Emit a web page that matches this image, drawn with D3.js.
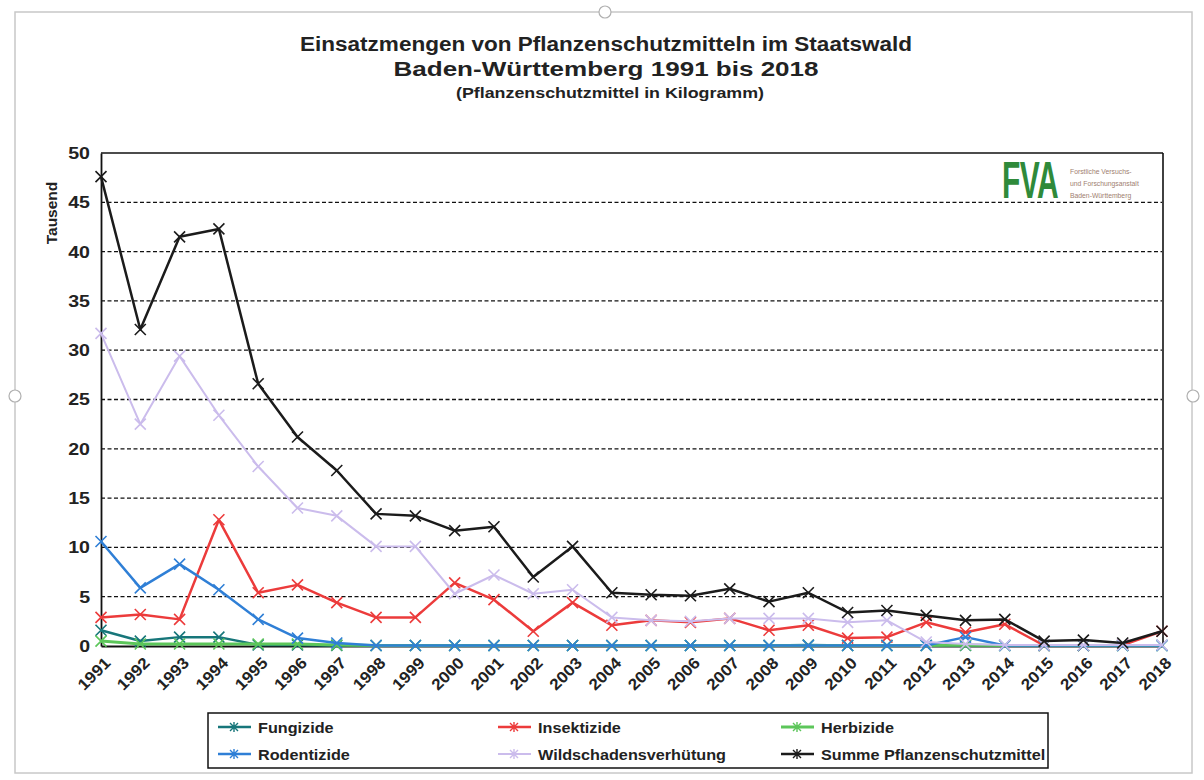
<!DOCTYPE html>
<html><head><meta charset="utf-8">
<script src="https://cdn.jsdelivr.net/npm/d3@7"></script>
<style>body{margin:0;background:#fff;} svg{display:block;font-family:"Liberation Sans",Arial,sans-serif;}</style>
</head><body><svg id="c" width="1204" height="780"></svg>
<script>
const years = [1991,1992,1993,1994,1995,1996,1997,1998,1999,2000,2001,2002,2003,2004,2005,2006,2007,2008,2009,2010,2011,2012,2013,2014,2015,2016,2017,2018];
const fungizide   = [1.6,0.5,0.9,0.9,0.1,0.1,0.05,0.05,0.05,0.05,0.05,0.05,0.05,0.05,0.05,0.05,0.05,0.05,0.1,0.05,0.05,0.05,0.05,0.05,0.05,0.05,0.05,0.05];
const insektizide = [2.9,3.2,2.7,12.8,5.4,6.2,4.4,2.9,2.9,6.4,4.7,1.5,4.4,2.1,2.6,2.4,2.8,1.6,2.1,0.8,0.9,2.4,1.4,2.2,0.05,0.05,0.1,1.5];
const herbizide   = [0.5,0.2,0.2,0.2,0.2,0.2,0.1,0.05,0.05,0.05,0.05,0.05,0.05,0.05,0.05,0.05,0.05,0.05,0.05,0.05,0.05,0.05,0.1,0.05,0.05,0.05,0.05,0.05];
const rodentizide = [10.6,5.9,8.3,5.7,2.7,0.8,0.3,0.05,0.05,0.05,0.05,0.05,0.05,0.05,0.05,0.05,0.05,0.05,0.05,0.05,0.05,0.05,0.9,0.05,0.05,0.05,0.05,0.05];
const wildschaden = [31.7,22.5,29.4,23.4,18.2,14.0,13.2,10.1,10.1,5.3,7.2,5.3,5.7,2.9,2.6,2.5,2.8,2.8,2.8,2.4,2.6,0.4,0.2,0.1,0.1,0.1,0.1,0.1];
const summe       = [47.6,32.1,41.5,42.3,26.6,21.2,17.8,13.4,13.2,11.7,12.1,7.0,10.1,5.4,5.2,5.1,5.8,4.5,5.4,3.4,3.6,3.1,2.6,2.7,0.5,0.6,0.3,1.5];
const seriesNames = ["Fungizide","Insektizide","Herbizide","Rodentizide","Wildschadensverhütung","Summe Pflanzenschutzmittel"];
const yTicks = [0,5,10,15,20,25,30,35,40,45,50];
const titleLines = ["Einsatzmengen von Pflanzenschutzmitteln im Staatswald","Baden-Württemberg 1991 bis 2018"];
const subtitle = "(Pflanzenschutzmittel in Kilogramm)";
const yLabel = "Tausend";
const logoLines = ["Forstliche Versuchs-","und Forschungsanstalt","Baden-Württemberg"];

const seriesData = [fungizide, insektizide, herbizide, rodentizide, wildschaden, summe];
const colors = ["#17767a","#ec3b3b","#5cc65a","#2f7fd6","#cbbcec","#1b1b1b"];
const widths = [2.5,2.5,3,2.5,2,2.5];

const svg = d3.select("#c");
function stretch(sel, f){
  sel.each(function(){
    const w = this.getComputedTextLength();
    d3.select(this).attr("textLength", w*f).attr("lengthAdjust","spacingAndGlyphs");
  });
  return sel;
}
// outer frame
svg.append("rect").attr("x",15).attr("y",12).attr("width",1177).attr("height",761)
  .attr("fill","#fff").attr("stroke","#c8c8c8").attr("stroke-width",1.5);
[[15,396],[605,12],[1193,396]].forEach(p=>{
  svg.append("circle").attr("cx",p[0]).attr("cy",p[1]).attr("r",6).attr("fill","#fff").attr("stroke","#b0b0b0").attr("stroke-width",1.2);
});

const L=101,R=1162,T=153,B=646;
const x = d3.scalePoint().domain(years).range([L,R]).padding(0);
const y = d3.scaleLinear().domain([0,50]).range([B,T]);

// titles
svg.append("text").attr("x",606).attr("y",51).attr("text-anchor","middle").attr("font-weight","bold").attr("font-size",20).attr("fill","#222").text(titleLines[0]).attr("textLength",612).attr("lengthAdjust","spacingAndGlyphs");
svg.append("text").attr("x",606).attr("y",76).attr("text-anchor","middle").attr("font-weight","bold").attr("font-size",20).attr("fill","#222").text(titleLines[1]).attr("textLength",425).attr("lengthAdjust","spacingAndGlyphs");
svg.append("text").attr("x",610).attr("y",98).attr("text-anchor","middle").attr("font-weight","bold").attr("font-size",14).attr("fill","#222").text(subtitle).attr("textLength",308).attr("lengthAdjust","spacingAndGlyphs");

// gridlines
const g = svg.append("g");
g.selectAll("line.grid").data(yTicks.filter(t=>t>0 && t<50)).join("line")
  .attr("x1",L).attr("x2",R).attr("y1",d=>y(d)).attr("y2",d=>y(d))
  .attr("stroke","#111").attr("stroke-width",1.3).attr("stroke-dasharray","4,2.5");
g.append("line").attr("x1",L).attr("x2",R+1).attr("y1",T).attr("y2",T).attr("stroke","#111").attr("stroke-width",1.6);
g.append("line").attr("x1",R+1).attr("x2",R+1).attr("y1",T).attr("y2",B).attr("stroke","#111").attr("stroke-width",1.6);

// y axis
const yAxis = g.append("g").attr("transform",`translate(${L},0)`).call(d3.axisLeft(y).tickValues(yTicks).tickSize(0).tickPadding(11));
yAxis.select(".domain").attr("stroke","#111").attr("stroke-width",1.8);
yAxis.selectAll("text").attr("font-size",17).attr("font-weight","bold").attr("fill","#222").attr("font-family","Liberation Sans, Arial, sans-serif");
stretch(yAxis.selectAll("text"),1.15);
svg.append("text").attr("transform","translate(57,213) rotate(-90)").attr("text-anchor","middle").attr("font-weight","bold").attr("font-size",15.5).attr("fill","#222").text(yLabel);

// x axis
const xAxis = g.append("g").attr("transform",`translate(0,${B})`).call(d3.axisBottom(x).tickSize(0).tickPadding(0));
xAxis.select(".domain").attr("stroke","#111").attr("stroke-width",1.8);
xAxis.selectAll("text").attr("font-size",16).attr("font-weight","bold").attr("fill","#222")
  .attr("font-family","Liberation Sans, Arial, sans-serif")
  .attr("text-anchor","end").attr("dy",0).attr("transform","translate(10,18) rotate(-45)");
stretch(xAxis.selectAll("text"),1.08);

// series
const line = d3.line().x((d,i)=>x(years[i])).y(d=>y(d));
const markerPath = s => `M${-s},${-s}L${s},${s}M${-s},${s}L${s},${-s}`;
seriesData.forEach((vals,k)=>{
  const sg = svg.append("g");
  sg.append("path").datum(vals).attr("d",line).attr("fill","none").attr("stroke",colors[k]).attr("stroke-width",widths[k]).attr("stroke-linejoin","round");
  sg.selectAll("path.m").data(vals).join("path").attr("class","m")
    .attr("transform",(d,i)=>`translate(${x(years[i])},${y(d)})`)
    .attr("d",markerPath(5.5)).attr("stroke",colors[k]).attr("stroke-width",1.6).attr("fill","none");
});

// logo
const logo = svg.append("g");
logo.append("text").attr("transform","translate(1002,198) scale(1,1.7)").attr("font-size",30).attr("font-weight","bold")
  .attr("letter-spacing",-0.5).attr("fill","#2f8a3a").attr("font-family","Liberation Sans, Arial, sans-serif").text("FVA");
logoLines.forEach((t,i)=>{
  logo.append("text").attr("x",1070).attr("y",174+i*12).attr("font-size",6.8).attr("fill","#a08070").text(t);
});

// legend
const lg = svg.append("g");
lg.append("rect").attr("x",208).attr("y",713).attr("width",840).attr("height",55).attr("fill","#fff").attr("stroke","#111").attr("stroke-width",1.5);
const colX = [218,498,781];
seriesNames.forEach((name,k)=>{
  const cx = colX[k%3], cy = 727 + Math.floor(k/3)*27;
  lg.append("line").attr("x1",cx).attr("x2",cx+33).attr("y1",cy).attr("y2",cy).attr("stroke",colors[k]).attr("stroke-width",widths[k]);
  lg.append("path").attr("transform",`translate(${cx+16},${cy})`).attr("d",markerPath(4)+"M0,-5L0,5").attr("stroke",colors[k]).attr("stroke-width",1.4).attr("fill","none");
  const t = lg.append("text").attr("x",cx+40).attr("y",cy+5.5).attr("font-size",15).attr("font-weight","bold").attr("fill","#222").text(name);
  stretch(t,1.08);
});
</script></body></html>
